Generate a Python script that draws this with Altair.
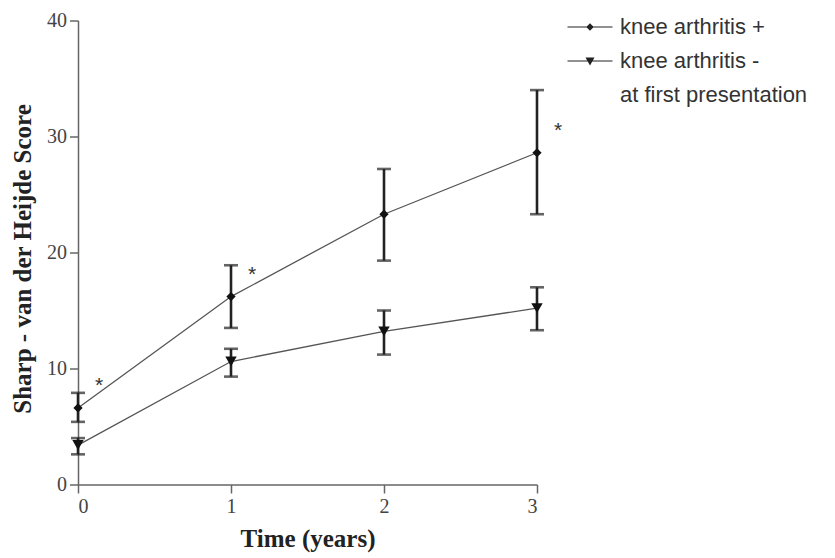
import altair as alt
import pandas as pd

# ---- data ----
time = [0, 1, 2, 3]
plus_mean = [6.6, 16.2, 23.3, 28.6]
plus_lo = [5.4, 13.5, 19.3, 23.3]
plus_hi = [7.9, 18.9, 27.2, 34.0]
minus_mean = [3.4, 10.6, 13.2, 15.2]
minus_lo = [2.6, 9.3, 11.2, 13.3]
minus_hi = [4.0, 11.7, 15.0, 17.0]
series_names = ["knee arthritis +", "knee arthritis -", "at first presentation"]
star_time = [0, 1, 3]
star_mean = [6.6, 16.2, 28.6]

rows = []
for i, t in enumerate(time):
    rows.append(dict(time=t, series=series_names[0], mean=plus_mean[i], lo=plus_lo[i], hi=plus_hi[i]))
for i, t in enumerate(time):
    rows.append(dict(time=t, series=series_names[1], mean=minus_mean[i], lo=minus_lo[i], hi=minus_hi[i]))
df = pd.DataFrame(rows)
stars = pd.DataFrame(dict(time=star_time, mean=star_mean))

SERIF = "Liberation Serif"
SANS = "Liberation Sans"

xs = alt.Scale(domain=[0, 3], nice=False, zero=False)
ys = alt.Scale(domain=[0, 40], nice=False)

X = alt.X("time:Q", scale=xs, axis=alt.Axis(
    values=time, format="d", title="Time (years)"))
Y = alt.Y("mean:Q", scale=ys, axis=alt.Axis(
    values=[0, 10, 20, 30, 40], format="d", title="Sharp - van der Heijde Score",
    titleY=238))

base = alt.Chart(df)

lines = base.mark_line(color="#555", strokeWidth=1.3).encode(
    x=X, y=Y, detail="series:N")

bars = base.mark_rule(color="#222", strokeWidth=2.6).encode(
    x="time:Q", y="lo:Q", y2="hi:Q")
cap_lo = base.mark_tick(color="#222", thickness=2.6, size=14, orient="horizontal").encode(
    x="time:Q", y="lo:Q")
cap_hi = base.mark_tick(color="#222", thickness=2.6, size=14, orient="horizontal").encode(
    x="time:Q", y="hi:Q")

pts_plus = base.transform_filter(alt.datum.series == series_names[0]).mark_point(
    shape="diamond", filled=True, color="#111", size=85, opacity=1).encode(x="time:Q", y="mean:Q")
pts_minus = base.transform_filter(alt.datum.series == series_names[1]).mark_point(
    shape="triangle-down", filled=True, color="#111", size=130, opacity=1).encode(x="time:Q", y="mean:Q")

bar_path = "M-1.5,-0.04H1.5V0.04H-1.5Z"
diamond_path = bar_path + "M-0.25,0L0,-0.25L0.25,0L0,0.25Z"
tri_path = bar_path + "M-0.3,-0.24L0.3,-0.24L0,0.3Z"
empty_path = "M0,0Z"

legend_layer = base.mark_point(filled=True, color="#222", opacity=0).encode(
    x="time:Q", y="mean:Q",
    shape=alt.Shape("series:N",
                    scale=alt.Scale(domain=series_names, range=[diamond_path, tri_path, empty_path]),
                    legend=alt.Legend(
                        title=None, orient="none", legendX=497, legendY=-8.5,
                        symbolSize=900, symbolOpacity=1,
                        symbolFillColor="#222", symbolStrokeWidth=0,
                        labelFont=SANS, labelFontSize=22, labelColor="#333",
                        labelOffset=15, rowPadding=8, padding=0, labelLimit=400)))

star_text = alt.Chart(stars).mark_text(
    text="*", font=SANS, fontSize=21, color="#333", dx=21, dy=-22).encode(
    x="time:Q", y="mean:Q")

chart = alt.layer(lines, bars, cap_lo, cap_hi, pts_plus, pts_minus, legend_layer, star_text).properties(
    width=459, height=464,
    autosize=alt.AutoSizeParams(type="none"),
    padding={"left": 70, "top": 12.5, "right": 290, "bottom": 70},
).configure_view(stroke=None).configure_axis(
    grid=False,
    domainColor="#666", domainWidth=1.5,
    tickColor="#666", tickWidth=1.5, tickSize=8.5,
    labelFont=SERIF, labelFontSize=20, labelColor="#444",
    titleFont=SERIF, titleFontSize=25, titleFontWeight="bold", titleColor="#222",
).configure_axisX(labelPadding=3, titlePadding=10).configure_axisY(labelPadding=3, titlePadding=11)

chart.save("out.html", embed_options={"renderer": "svg", "actions": False})
